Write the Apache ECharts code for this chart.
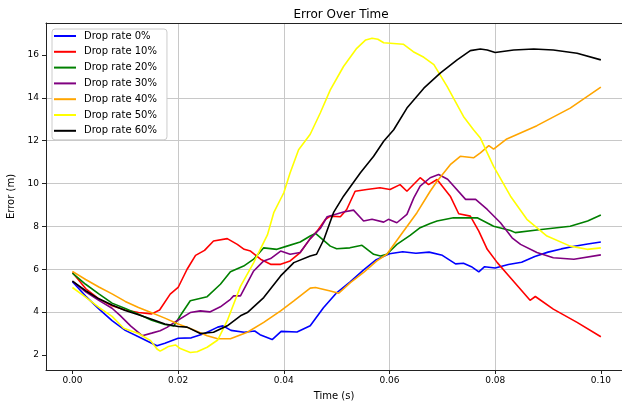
<!DOCTYPE html>
<html>
<head>
<meta charset="utf-8">
<script src="https://cdn.jsdelivr.net/npm/echarts@6/dist/echarts.min.js"></script>
<style>
html,body{margin:0;padding:0;background:#fff;}
#chart{width:622px;height:404px;}
</style>
</head>
<body>
<div id="chart"></div>
<script>
const seriesNames = ['Drop rate 0%','Drop rate 10%','Drop rate 20%','Drop rate 30%','Drop rate 40%','Drop rate 50%','Drop rate 60%'];
const seriesColors = ['#0000ff','#ff0000','#008000','#800080','#ffa500','#ffff00','#000000'];
const xTicks = [0, 0.02, 0.04, 0.06, 0.08, 0.10];
const yTicks = [2, 4, 6, 8, 10, 12, 14, 16];

const drop0 = [[0,5.42],[0.0025,4.75],[0.005,4.15],[0.0075,3.6],[0.01,3.15],[0.0125,2.85],[0.015,2.55],[0.016,2.43],[0.0175,2.55],[0.02,2.78],[0.0225,2.8],[0.025,3.0],[0.0275,3.3],[0.0285,3.36],[0.03,3.15],[0.0325,3.06],[0.0345,3.12],[0.0355,2.95],[0.0378,2.72],[0.0395,3.1],[0.0425,3.07],[0.045,3.36],[0.0475,4.2],[0.05,4.9],[0.0525,5.4],[0.055,5.95],[0.0575,6.45],[0.06,6.72],[0.0625,6.82],[0.065,6.75],[0.0675,6.8],[0.07,6.65],[0.0725,6.25],[0.074,6.28],[0.0755,6.12],[0.0769,5.88],[0.078,6.12],[0.08,6.06],[0.0825,6.22],[0.085,6.33],[0.0875,6.6],[0.09,6.8],[0.0925,6.95],[0.095,7.07],[0.0975,7.18],[0.1,7.27]];
const drop10 = [[0,5.85],[0.0025,5.1],[0.005,4.62],[0.0075,4.3],[0.01,4.1],[0.0125,3.98],[0.015,3.92],[0.0165,4.1],[0.0185,4.84],[0.02,5.15],[0.0217,6.0],[0.0233,6.65],[0.025,6.88],[0.0267,7.32],[0.0293,7.43],[0.0312,7.16],[0.0325,6.93],[0.0337,6.85],[0.0356,6.47],[0.0375,6.23],[0.0394,6.23],[0.0412,6.39],[0.0431,6.78],[0.045,7.43],[0.0463,7.78],[0.0479,8.33],[0.0488,8.48],[0.0507,8.45],[0.0519,8.79],[0.0535,9.64],[0.0557,9.72],[0.0582,9.8],[0.0601,9.72],[0.062,9.95],[0.0633,9.64],[0.0658,10.27],[0.0674,9.95],[0.069,10.19],[0.0715,9.41],[0.0731,8.59],[0.0753,8.48],[0.0769,7.78],[0.0785,6.93],[0.0804,6.31],[0.0826,5.69],[0.0845,5.15],[0.0866,4.55],[0.0876,4.73],[0.091,4.14],[0.0955,3.52],[0.1,2.85]];
const drop20 = [[0,5.82],[0.0025,5.3],[0.005,4.85],[0.0075,4.42],[0.01,4.17],[0.0125,3.9],[0.015,3.62],[0.0175,3.42],[0.0192,3.36],[0.0204,3.83],[0.0223,4.53],[0.0255,4.72],[0.028,5.3],[0.0299,5.88],[0.0324,6.15],[0.0343,6.47],[0.0362,7.0],[0.0387,6.93],[0.0406,7.08],[0.0431,7.27],[0.045,7.55],[0.046,7.67],[0.0488,7.08],[0.05,6.96],[0.0525,7.0],[0.0548,7.12],[0.057,6.7],[0.0583,6.62],[0.0595,6.7],[0.0614,7.16],[0.0639,7.58],[0.0658,7.94],[0.0677,8.14],[0.069,8.25],[0.0721,8.4],[0.0766,8.4],[0.0797,8.01],[0.0829,7.81],[0.0838,7.71],[0.0879,7.83],[0.0942,8.01],[0.0975,8.25],[0.1,8.53]];
const drop30 = [[0,5.45],[0.0025,4.95],[0.005,4.55],[0.0075,4.18],[0.009,3.85],[0.011,3.36],[0.0132,2.9],[0.015,3.02],[0.0166,3.13],[0.0179,3.29],[0.0198,3.6],[0.0223,3.98],[0.0242,4.06],[0.026,4.01],[0.028,4.25],[0.0299,4.6],[0.0305,4.76],[0.0318,4.76],[0.0343,5.92],[0.0362,6.39],[0.0375,6.5],[0.0394,6.85],[0.0412,6.7],[0.0431,6.78],[0.045,7.43],[0.0469,7.9],[0.0482,8.45],[0.0513,8.67],[0.0532,8.76],[0.0551,8.25],[0.0567,8.33],[0.0589,8.2],[0.0598,8.33],[0.0614,8.17],[0.0633,8.56],[0.0646,9.33],[0.0658,9.88],[0.0677,10.27],[0.0693,10.42],[0.071,10.2],[0.0744,9.26],[0.0763,9.26],[0.0785,8.79],[0.081,8.17],[0.0832,7.47],[0.0848,7.16],[0.0879,6.78],[0.091,6.54],[0.0949,6.47],[0.1,6.67]];
const drop40 = [[0,5.9],[0.0025,5.52],[0.005,5.17],[0.0075,4.85],[0.01,4.5],[0.0125,4.22],[0.015,3.97],[0.0175,3.72],[0.02,3.45],[0.0223,3.24],[0.0255,2.9],[0.0275,2.76],[0.0299,2.76],[0.0331,3.06],[0.0362,3.52],[0.0394,4.06],[0.0419,4.53],[0.045,5.12],[0.046,5.15],[0.0488,4.99],[0.0504,4.88],[0.0526,5.38],[0.0551,5.85],[0.0576,6.39],[0.0595,6.7],[0.062,7.55],[0.0652,8.64],[0.0677,9.64],[0.069,10.11],[0.0715,10.88],[0.0734,11.27],[0.0759,11.2],[0.0772,11.43],[0.0788,11.77],[0.0797,11.61],[0.0822,12.08],[0.0879,12.7],[0.0942,13.52],[0.1,14.5]];
const drop50 = [[0,5.15],[0.0025,4.7],[0.005,4.22],[0.0075,3.8],[0.0097,3.25],[0.0125,3.0],[0.0148,2.67],[0.016,2.28],[0.0166,2.18],[0.0175,2.3],[0.0182,2.4],[0.0195,2.47],[0.0204,2.3],[0.0223,2.12],[0.0236,2.15],[0.0255,2.36],[0.0275,2.7],[0.0293,3.6],[0.0318,5.2],[0.0343,6.31],[0.0369,7.6],[0.0381,8.64],[0.04,9.57],[0.0412,10.5],[0.0428,11.58],[0.045,12.3],[0.0469,13.29],[0.0488,14.37],[0.0513,15.46],[0.0538,16.31],[0.0555,16.7],[0.0567,16.78],[0.0578,16.73],[0.0589,16.57],[0.0626,16.5],[0.0645,16.15],[0.0665,15.89],[0.0684,15.55],[0.0709,14.53],[0.074,13.13],[0.0759,12.51],[0.0772,12.12],[0.0797,10.8],[0.0829,9.41],[0.086,8.33],[0.0898,7.55],[0.0942,7.08],[0.0974,6.93],[0.1,7.0]];
const drop60 = [[0,5.45],[0.0025,5.0],[0.005,4.62],[0.0075,4.33],[0.01,4.08],[0.0125,3.88],[0.015,3.67],[0.0175,3.45],[0.02,3.33],[0.0217,3.3],[0.0242,3.0],[0.0267,3.06],[0.0293,3.36],[0.0318,3.83],[0.0331,3.98],[0.0362,4.68],[0.0394,5.69],[0.0419,6.31],[0.045,6.62],[0.0462,6.7],[0.0476,7.4],[0.0494,8.64],[0.0513,9.41],[0.0545,10.5],[0.057,11.27],[0.0589,11.97],[0.0608,12.51],[0.0633,13.52],[0.0665,14.45],[0.0696,15.15],[0.0728,15.77],[0.0753,16.2],[0.0772,16.28],[0.0785,16.23],[0.08,16.11],[0.0835,16.23],[0.0873,16.28],[0.091,16.23],[0.0955,16.08],[0.1,15.77]];

const allData = [drop0, drop10, drop20, drop30, drop40, drop50, drop60];
const FONT = 'DejaVu Sans';
const X_MIN = -0.005, X_MAX = 0.104;

const chart = echarts.init(document.getElementById('chart'), null, {renderer: 'canvas'});
chart.setOption({
  animation: false,
  backgroundColor: '#ffffff',
  textStyle: {fontFamily: FONT},
  title: {
    text: 'Error Over Time',
    left: 336, top: 4, textAlign: 'center',
    textStyle: {fontFamily: FONT, fontSize: 12, fontWeight: 'normal', color: '#000'}
  },
  grid: {
    left: 46, right: 0, top: 23, bottom: 34,
    containLabel: false, outerBoundsMode: 'none', show: false
  },
  legend: {
    orient: 'vertical', left: 52, top: 29,
    data: seriesNames,
    itemWidth: 22, itemHeight: 2, icon: 'rect', itemGap: 3.8,
    padding: [1, 10, 3, 2],
    backgroundColor: '#ffffff', borderColor: '#cccccc', borderWidth: 1, borderRadius: 3,
    textStyle: {fontFamily: FONT, fontSize: 10, color: '#000', lineHeight: 12, padding: [0,0,0,3]}
  },
  xAxis: [{
    type: 'value', min: X_MIN, max: X_MAX, position: 'bottom',
    name: 'Time (s)', nameLocation: 'middle', nameGap: 21,
    nameTextStyle: {fontFamily: FONT, fontSize: 10, color: '#000'},
    axisLine: {show: true, onZero: false, lineStyle: {color: '#222', width: 1}},
    axisTick: {show: true, inside: false, length: 4, customValues: xTicks, lineStyle: {color: '#222'}},
    axisLabel: {show: true, margin: 6, customValues: xTicks, fontFamily: FONT, fontSize: 9, color: '#000',
      formatter: v => v.toFixed(2)},
    splitLine: {show: true, showMinLine: false, showMaxLine: false, lineStyle: {color: '#c8c8c8', width: 1}}
  }, {
    type: 'value', min: X_MIN, max: X_MAX, position: 'top',
    axisLine: {show: true, onZero: false, lineStyle: {color: '#222', width: 1}},
    axisTick: {show: false}, axisLabel: {show: false}, splitLine: {show: false}
  }],
  yAxis: {
    type: 'value', min: 1.3, max: 17.49,
    name: 'Error (m)', nameLocation: 'middle', nameGap: 25, nameRotate: 90,
    nameTextStyle: {fontFamily: FONT, fontSize: 10, color: '#000'},
    axisLine: {show: true, onZero: false, lineStyle: {color: '#222', width: 1}},
    axisTick: {show: true, inside: false, length: 4, customValues: yTicks, lineStyle: {color: '#222'}},
    axisLabel: {show: true, margin: 7, customValues: yTicks, fontFamily: FONT, fontSize: 9, color: '#000',
      formatter: v => String(Math.round(v))},
    splitLine: {show: true, showMinLine: false, showMaxLine: false, lineStyle: {color: '#c8c8c8', width: 1}}
  },
  series: seriesNames.map((name, i) => ({
    name: name, type: 'line', data: allData[i], xAxisIndex: 0,
    showSymbol: false, symbol: 'none', smooth: false,
    color: seriesColors[i],
    lineStyle: {color: seriesColors[i], width: 1.6},
    emphasis: {disabled: true}
  }))
});
</script>
</body>
</html>
